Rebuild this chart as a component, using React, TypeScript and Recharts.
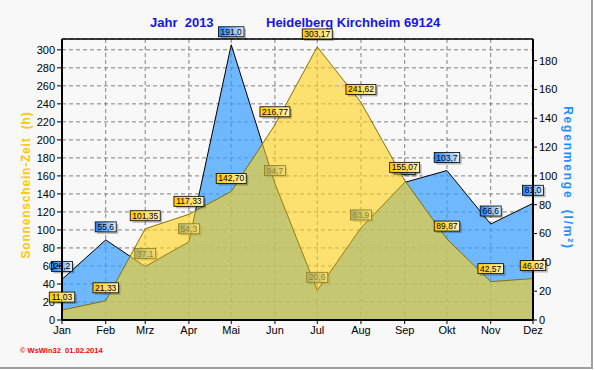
import React from "react";
import {
  ComposedChart,
  Area,
  XAxis,
  YAxis,
  CartesianGrid,
  LabelList,
  ReferenceLine,
} from "recharts";

const months = ["Jan", "Feb", "Mrz", "Apr", "Mai", "Jun", "Jul", "Aug", "Sep", "Okt", "Nov", "Dez"];
// day of year at the start of each month (2013)
const monthStartDay = [0, 31, 59, 90, 120, 151, 181, 212, 243, 273, 304, 334];
const sunshine = [11.03, 21.33, 101.35, 117.33, 142.7, 216.77, 303.17, 241.62, 155.07, 89.87, 42.57, 46.02];
const rain = [28.2, 55.6, 37.1, 54.3, 191.0, 94.7, 20.6, 63.9, 95.5, 103.7, 66.6, 81.0];

const sunTicks = [0, 20, 40, 60, 80, 100, 120, 140, 160, 180, 200, 220, 240, 260, 280, 300];
const sunMinorTicks = [10, 30, 50, 70, 90, 110, 130, 150, 170, 190, 210, 230, 250, 270, 290, 310];
const rainTicks = [0, 20, 40, 60, 80, 100, 120, 140, 160, 180];
const rainMinorTicks = [10, 30, 50, 70, 90, 110, 130, 150, 170, 190];
// quarter-month tick marks along the bottom
const dayMinorTicks = monthStartDay.slice(0, -1).flatMap((d, i) => {
  const len = monthStartDay[i + 1] - d;
  return [d + len / 4, d + len / 2, d + (3 * len) / 4];
});

const data = months.map((m, i) => ({
  month: m,
  day: monthStartDay[i],
  sun: sunshine[i],
  rain: rain[i],
}));

const FONT = "'Liberation Sans', Arial, sans-serif";

function makeLabel(kind: "sun" | "rain") {
  return (props: any) => {
    const { x, y, value } = props;
    if (x == null || y == null || value == null) return null;
    const txt = kind === "sun" ? Number(value).toFixed(2).replace(".", ",") : Number(value).toFixed(1).replace(".", ",");
    const w = txt.length * 4.5 + 3;
    const h = 10;
    const cy = y - 13;
    return (
      <g>
        <rect x={x - w / 2 + 2} y={cy - h / 2 + 2} width={w} height={h} fill="#000" opacity={0.25} />
        <rect
          x={x - w / 2}
          y={cy - h / 2}
          width={w}
          height={h}
          fill={kind === "sun" ? "url(#gradSun)" : "url(#gradRain)"}
          stroke="#000"
          strokeWidth={0.8}
        />
        <text x={x} y={cy + 3} textAnchor="middle" fontSize={8.5} fontFamily={FONT} fill="#000">
          {txt}
        </text>
      </g>
    );
  };
}

export default function App() {
  return (
    <div
      style={{
        position: "absolute",
        left: 0,
        top: 0,
        width: 591,
        height: 367,
        background: "#f8f8f8",
        borderRight: "2px solid #a0a0a0",
        borderBottom: "2px solid #a0a0a0",
        fontFamily: FONT,
        overflow: "hidden",
      }}
    >
      <style>{`body{margin:0}`}</style>
      <div style={{ position: "absolute", left: 150, top: 15, fontSize: 13, fontWeight: "bold", color: "#1414f0" }}>
        Jahr&nbsp;&nbsp;2013
      </div>
      <div style={{ position: "absolute", left: 266, top: 15, fontSize: 13, fontWeight: "bold", color: "#1414f0" }}>
        Heidelberg Kirchheim 69124
      </div>
      <div
        style={{
          position: "absolute",
          left: 26,
          top: 185,
          transform: "translate(-50%,-50%) rotate(-90deg)",
          whiteSpace: "nowrap",
          fontSize: 12,
          fontWeight: "bold",
          letterSpacing: 0.8,
          color: "#ffc800",
        }}
      >
        Sonnenschein-Zeit&nbsp;&nbsp;(h)
      </div>
      <div
        style={{
          position: "absolute",
          left: 568,
          top: 178,
          transform: "translate(-50%,-50%) rotate(90deg)",
          whiteSpace: "nowrap",
          fontSize: 12,
          fontWeight: "bold",
          letterSpacing: 1.8,
          color: "#1e90ff",
        }}
      >
        Regenmenge&nbsp;&nbsp;(l/m²)
      </div>
      <div style={{ position: "absolute", left: 20, top: 346, fontSize: 7.5, fontWeight: "bold", color: "#ff0000" }}>
        © WsWin32&nbsp;&nbsp;01.02.2014
      </div>
      <div style={{ position: "absolute", left: 0, top: 0 }}>
        <ComposedChart width={595} height={370} data={data} margin={{ top: 39, right: 0, bottom: 0, left: 0 }}>
          <defs>
            <linearGradient id="gradSun" x1="0" y1="0" x2="1" y2="0">
              <stop offset="0%" stopColor="#ffc800" />
              <stop offset="100%" stopColor="#fff4c0" />
            </linearGradient>
            <linearGradient id="gradRain" x1="0" y1="0" x2="1" y2="0">
              <stop offset="0%" stopColor="#1e80ff" />
              <stop offset="100%" stopColor="#e0f0ff" />
            </linearGradient>
          </defs>
          <CartesianGrid yAxisId="left" stroke="#808080" strokeDasharray="4 3" />
          <XAxis
            xAxisId="minor"
            dataKey="day"
            type="number"
            domain={[0, 334]}
            ticks={dayMinorTicks}
            height={0}
            axisLine={false}
            tickLine={{ stroke: "#000" }}
            tickSize={3}
            tick={false}
            interval={0}
          />
          <XAxis
            dataKey="day"
            type="number"
            domain={[0, 334]}
            ticks={monthStartDay}
            tickFormatter={(v: number) => months[monthStartDay.indexOf(v)]}
            height={50}
            axisLine={{ stroke: "#000", strokeWidth: 2 }}
            tickLine={{ stroke: "#000" }}
            tickSize={4}
            tick={{ fill: "#000", fontSize: 11, fontFamily: FONT }}
            interval={0}
          />
          <YAxis
            yAxisId="leftMinor"
            domain={[0, 312]}
            ticks={sunMinorTicks}
            width={0}
            axisLine={false}
            tickLine={{ stroke: "#000" }}
            tickSize={3}
            tick={false}
            interval={0}
          />
          <YAxis
            yAxisId="left"
            domain={[0, 312]}
            ticks={sunTicks}
            width={62}
            axisLine={{ stroke: "#000", strokeWidth: 2 }}
            tickLine={{ stroke: "#000" }}
            tickSize={5}
            tickMargin={2}
            tick={{ fill: "#000", fontSize: 11, fontFamily: FONT }}
            interval={0}
          />
          <YAxis
            yAxisId="rightMinor"
            orientation="right"
            domain={[0, 195]}
            ticks={rainMinorTicks}
            width={0}
            axisLine={false}
            tickLine={{ stroke: "#000" }}
            tickSize={3}
            tick={false}
            interval={0}
          />
          <YAxis
            yAxisId="right"
            orientation="right"
            domain={[0, 195]}
            ticks={rainTicks}
            width={62}
            axisLine={{ stroke: "#000", strokeWidth: 2 }}
            tickLine={{ stroke: "#000" }}
            tickSize={4}
            tickMargin={2}
            tick={{ fill: "#000", fontSize: 11, fontFamily: FONT }}
            interval={0}
          />
          <Area
            yAxisId="right"
            type="linear"
            dataKey="rain"
            fill="rgb(54,157,255)"
            fillOpacity={0.7}
            stroke="#000"
            strokeWidth={1}
            isAnimationActive={false}
          >
            <LabelList dataKey="rain" content={makeLabel("rain")} zIndex={150} />
          </Area>
          <Area
            yAxisId="left"
            type="linear"
            dataKey="sun"
            fill="rgb(255,208,21)"
            fillOpacity={0.6}
            stroke="#8a7000"
            strokeWidth={1}
            isAnimationActive={false}
            zIndex={300}
          >
            <LabelList dataKey="sun" content={makeLabel("sun")} />
          </Area>
          <ReferenceLine yAxisId="left" y={312} stroke="#000" strokeWidth={1.5} />
        </ComposedChart>
      </div>
    </div>
  );
}
